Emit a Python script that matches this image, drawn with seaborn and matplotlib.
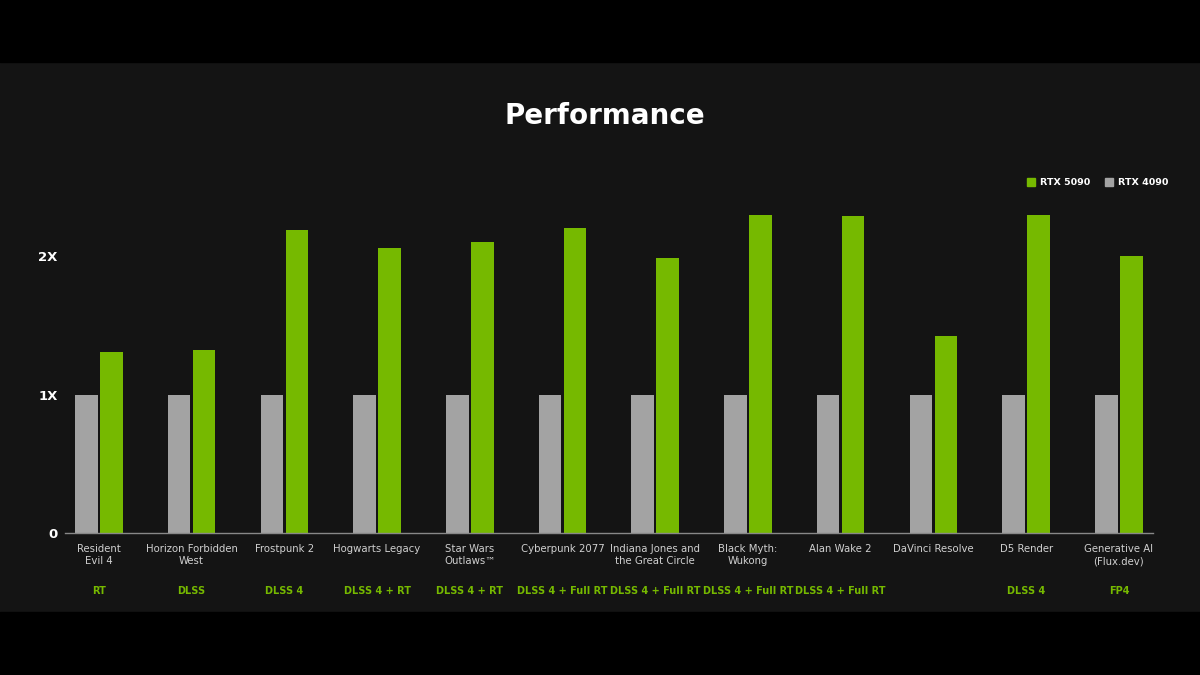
import matplotlib
matplotlib.use("Agg")
import matplotlib.pyplot as plt
import seaborn as sns
import pandas as pd
from matplotlib.patches import Rectangle

games = ["Resident\nEvil 4", "Horizon Forbidden\nWest", "Frostpunk 2", "Hogwarts Legacy",
         "Star Wars\nOutlaws™", "Cyberpunk 2077", "Indiana Jones and\nthe Great Circle",
         "Black Myth:\nWukong", "Alan Wake 2", "DaVinci Resolve", "D5 Render",
         "Generative AI\n(Flux.dev)"]
features = ["RT", "DLSS", "DLSS 4", "DLSS 4 + RT", "DLSS 4 + RT", "DLSS 4 + Full RT",
            "DLSS 4 + Full RT", "DLSS 4 + Full RT", "DLSS 4 + Full RT", "", "DLSS 4", "FP4"]
rtx5090 = [1.31, 1.32, 2.19, 2.06, 2.10, 2.20, 1.99, 2.30, 2.29, 1.42, 2.30, 2.00]
rtx4090 = [1.0] * 12
yticks = [0, 1, 2]
ytick_labels = ["0", "1X", "2X"]

GREEN = "#76b900"
GRAY = "#a3a3a3"
BG = "#141414"

df = pd.DataFrame({
    "game": games * 2,
    "value": rtx4090 + rtx5090,
    "gpu": ["RTX 4090"] * 12 + ["RTX 5090"] * 12,
})

fig = plt.figure(figsize=(12, 6.75), dpi=100)
fig.patch.set_facecolor(BG)
fig.patches.append(Rectangle((0, 0.9081), 1, 0.092, transform=fig.transFigure, color="black", zorder=0))
fig.patches.append(Rectangle((0, 0), 1, 0.093, transform=fig.transFigure, color="black", zorder=0))

ax = fig.add_axes([0.054, 0.2104, 0.907, 0.5126])
ax.set_facecolor(BG)
sns.barplot(data=df, x="game", y="value", hue="gpu", hue_order=["RTX 4090", "RTX 5090"],
            palette={"RTX 4090": GRAY, "RTX 5090": GREEN}, width=0.54, gap=0.1,
            saturation=1, legend=False, ax=ax)
ax.set_xlim(-0.367, 11.37)
ax.set_ylim(0, 2.5)
for s in ["top", "right", "left"]:
    ax.spines[s].set_visible(False)
ax.spines["bottom"].set_color("#888888")
ax.spines["bottom"].set_linewidth(1)
ax.set_yticks(yticks)
ax.set_yticklabels(ytick_labels, color="white", fontsize=9.5, fontweight="bold")
ax.tick_params(axis="y", length=0, pad=5)
ax.set_xticks([])
ax.set_xlabel("")
ax.set_ylabel("")

for i, (g, f) in enumerate(zip(games, features)):
    ax.text(i, -0.08, g, ha="center", va="top", color="#d0d0d0", fontsize=7.3, linespacing=1.3)
    ax.text(i, -0.385, f, ha="center", va="top", color=GREEN, fontsize=7, fontweight="bold")

fig.text(0.504, 0.828, "Performance", ha="center", va="center", color="white",
         fontsize=20, fontweight="bold")

for x0, lab, col in [(0.856, "RTX 5090", GREEN), (0.921, "RTX 4090", GRAY)]:
    fig.patches.append(Rectangle((x0, 0.724), 0.0065, 0.0125, transform=fig.transFigure, color=col))
    fig.text(x0 + 0.0105, 0.730, lab, color="white", fontsize=6.8, fontweight="bold", va="center")

fig.savefig("out.png", dpi=100, facecolor=BG)
